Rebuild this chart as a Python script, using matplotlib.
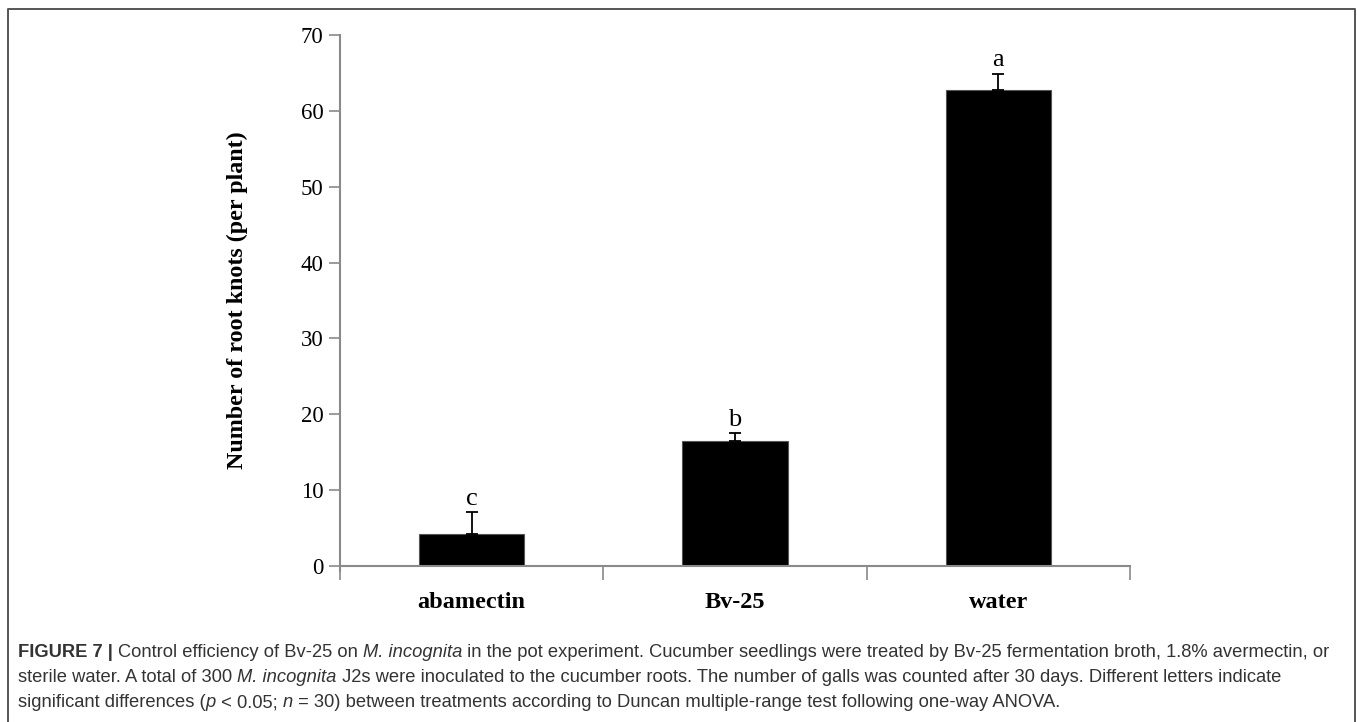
import matplotlib

matplotlib.use("Agg")

import matplotlib.pyplot as plt
from matplotlib.lines import Line2D

# data
treatments = ["abamectin", "Bv-25", "water"]
root_knots = [4.2, 16.5, 62.8]
errors = [2.9, 1.0, 2.1]
letters = ["c", "b", "a"]
y_ticks = [0, 10, 20, 30, 40, 50, 60, 70]

caption_lines = [
    [("FIGURE 7 | ", "bold"), ("Control efficiency of Bv-25 on ", "normal"), ("M. incognita", "italic"),
     (" in the pot experiment. Cucumber seedlings were treated by Bv-25 fermentation broth, 1.8% avermectin, or", "normal")],
    [("sterile water. A total of 300 ", "normal"), ("M. incognita", "italic"),
     (" J2s were inoculated to the cucumber roots. The number of galls was counted after 30 days. Different letters indicate", "normal")],
    [("significant differences (", "normal"), ("p", "italic"), (" < 0.05; ", "normal"), ("n", "italic"),
     (" = 30) between treatments according to Duncan multiple-range test following one-way ANOVA.", "normal")],
]

W, H = 1357, 722
SPINE = "#8a8a8a"

fig = plt.figure(figsize=(W / 100, H / 100), dpi=100)
ax = fig.add_axes([340 / W, 1 - 566 / H, 790 / W, 531 / H])

x = range(len(treatments))
ax.bar(x, root_knots, width=0.4, color="black", edgecolor="#555555", linewidth=0.8)
ax.errorbar(x, root_knots, yerr=[[0] * 3, errors], fmt="none", ecolor="black",
            elinewidth=1.3, capsize=4, capthick=1.3)
for xi, val, err, letter in zip(x, root_knots, errors, letters):
    ax.text(xi, val + err + 0.3, letter, ha="center", va="bottom",
            family="Liberation Serif", fontsize=19)

ax.set_xlim(-0.5, 2.5)
ax.set_ylim(0, 70)
ax.set_yticks(y_ticks)
ax.set_yticklabels([str(t) for t in y_ticks], family="Liberation Serif", fontsize=16.5)
ax.set_xticks(list(x))
ax.set_xticklabels(treatments, family="Liberation Serif", fontsize=17.5, fontweight="bold")
ax.set_xticks([-0.5, 0.5, 1.5, 2.5], minor=True)
ax.tick_params(axis="x", which="major", length=0, pad=19)
ax.tick_params(axis="x", which="minor", length=10, width=1.2, color=SPINE, direction="out")
ax.tick_params(axis="y", length=8, width=1.2, color=SPINE, direction="out", pad=4)
for side in ("top", "right"):
    ax.spines[side].set_visible(False)
for side in ("left", "bottom"):
    ax.spines[side].set_color(SPINE)
    ax.spines[side].set_linewidth(1.5)
ax.spines["left"].set_bounds(-0.6, 70)
ax.set_ylabel("Number of root knots (per plant)", family="Liberation Serif", fontsize=17.3,
              fontweight="bold", labelpad=38)

# outer frame (open at bottom)
frame = Line2D([8 / W, 8 / W, 1355 / W, 1355 / W], [0, 1 - 9 / H, 1 - 9 / H, 0],
               transform=fig.transFigure, color="#555555", linewidth=1.4)
fig.add_artist(frame)

# caption, drawn run by run on a shared baseline
renderer = fig.canvas.get_renderer()
baselines = [657, 682, 707]
for runs, py in zip(caption_lines, baselines):
    px = 18
    for text, style in runs:
        t = fig.text(px / W, 1 - py / H, text, va="baseline", ha="left", color="#333333",
                     family="Liberation Sans", fontsize=13.2,
                     fontweight="bold" if style == "bold" else "normal",
                     fontstyle="italic" if style == "italic" else "normal")
        px += t.get_window_extent(renderer).width

fig.savefig("out.png", dpi=100)
